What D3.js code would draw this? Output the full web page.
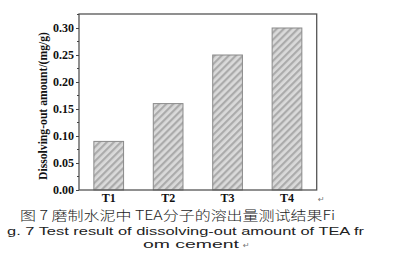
<!DOCTYPE html>
<html><head><meta charset="utf-8">
<script src="https://cdn.jsdelivr.net/npm/d3@7/dist/d3.min.js"></script>
<style>body{margin:0;background:#fff}svg{display:block}</style>
</head><body>
<script>
const categories = ["T1","T2","T3","T4"];
const values = [0.09, 0.16, 0.25, 0.30];
const yTicks = [0, 0.05, 0.10, 0.15, 0.20, 0.25, 0.30];
const yMinor = [0.025, 0.075, 0.125, 0.175, 0.225, 0.275, 0.325];
const yTitle = "Dissolving-out amount/(mg/g)";
const caption = ["图 7 磨制水泥中 TEA分子的溶出量测试结果Fi", "g. 7  Test result of dissolving-out amount of TEA fr", "om cement"];

const W = 396, H = 259;
const mL = 79, mR = 316.7, mT = 14, mB = 190;
const svg = d3.select("body").append("svg").attr("width", W).attr("height", H);

const x = d3.scaleBand().domain(categories).range([mL, mR]).paddingInner(0.5).paddingOuter(0.25);
const y = d3.scaleLinear().domain([0, 0.30]).range([mB, 28]);

const defs = svg.append("defs");
const pat = defs.append("pattern").attr("id", "hatch").attr("patternUnits", "userSpaceOnUse")
  .attr("width", 5).attr("height", 5).attr("patternTransform", "rotate(45)");
pat.append("rect").attr("width", 5).attr("height", 5).attr("fill", "#dadada");
pat.append("rect").attr("x", 0).attr("width", 2.2).attr("height", 5).attr("fill", "#ababab");

svg.selectAll("rect.bar").data(values).enter().append("rect").attr("class", "bar")
  .attr("x", (d, i) => x(categories[i]))
  .attr("y", d => y(d))
  .attr("width", x.bandwidth())
  .attr("height", d => mB - y(d))
  .attr("fill", "url(#hatch)")
  .attr("stroke", "#8a8a8a").attr("stroke-width", 1);

// frame
svg.append("rect").attr("x", mL).attr("y", mT).attr("width", mR - mL).attr("height", mB - mT)
  .attr("fill", "none").attr("stroke", "#555").attr("stroke-width", 1.3);

// y axis
const yAxis = d3.axisLeft(y).tickValues(yTicks).tickFormat(d3.format(".2f")).tickSize(3).tickPadding(2);
const ga = svg.append("g").attr("transform", `translate(${mL},0)`).call(yAxis);
ga.select(".domain").remove();
ga.selectAll("line").attr("stroke", "#444");
ga.selectAll("text").attr("font-family", "Liberation Serif").attr("font-weight", "bold").attr("font-size", 12).attr("fill", "#111");
svg.append("g").selectAll("line").data(yMinor.filter(d => y(d) > mT)).enter().append("line")
  .attr("x1", mL - 2).attr("x2", mL).attr("y1", d => y(d)).attr("y2", d => y(d)).attr("stroke", "#444");

// x axis
const xAxis = d3.axisBottom(x).tickSize(0).tickPadding(3.5);
const gx = svg.append("g").attr("transform", `translate(0,${mB})`).call(xAxis);
gx.select(".domain").remove();
gx.selectAll("text").attr("font-family", "Liberation Serif").attr("font-weight", "bold").attr("font-size", 12).attr("fill", "#111");

svg.append("text").attr("transform", `translate(47,106) rotate(-90)`).attr("text-anchor", "middle")
  .attr("font-family", "Liberation Serif").attr("font-weight", "bold").attr("font-size", 11.5).attr("fill", "#111")
  .attr("textLength", 148).attr("lengthAdjust", "spacingAndGlyphs").text(yTitle);

svg.append("text").attr("x", 318).attr("y", 202).attr("font-size", 8).attr("fill", "#777").attr("font-family", "DejaVu Sans").text("↵");

svg.append("text").attr("x", 20).attr("y", 220).attr("font-size", 13).attr("textLength", 315)
  .attr("font-family", "Noto Sans CJK SC").attr("font-weight", 300).attr("fill", "#222").attr("lengthAdjust", "spacingAndGlyphs").text(caption[0]);
const latStyle = t => t.attr("font-family", "Liberation Sans").attr("fill", "#222").attr("lengthAdjust", "spacingAndGlyphs");
svg.append("text").attr("x", 7).attr("y", 235).attr("font-size", 11.5).attr("textLength", 357).call(latStyle).text(caption[1]);
svg.append("text").attr("x", 143).attr("y", 248).attr("font-size", 11.5).attr("textLength", 96).call(latStyle).text(caption[2]);
svg.append("text").attr("x", 243).attr("y", 248).attr("font-size", 8).attr("fill", "#777").attr("font-family", "DejaVu Sans").text("↵");
</script>
</body></html>
